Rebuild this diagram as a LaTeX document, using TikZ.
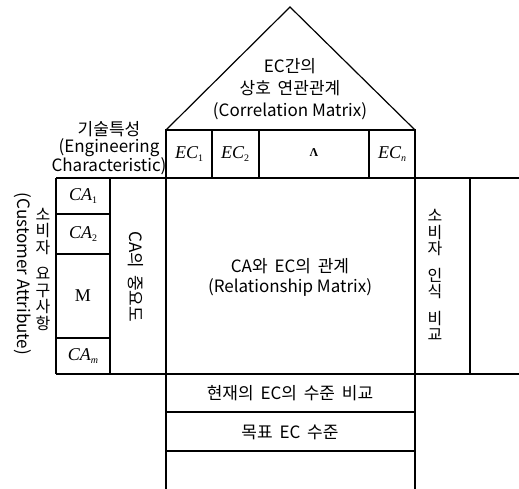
\documentclass[tikz,border=0pt]{standalone}
\usepackage{fontspec}
\setmainfont{Noto Sans CJK KR}
\newfontfamily\tms{Liberation Serif}
\newcommand\lbl[2]{{\tms\fontsize{18}{20}\selectfont\itshape #1\raisebox{-0.45ex}{\fontsize{10}{10}\selectfont #2}}}
\newcommand\ks{\hspace{0.4em}}
\begin{document}
\begin{tikzpicture}[x=1pt,y=-1pt,line width=1.2pt,
  txt/.style={font=\fontsize{17}{20}\selectfont,align=center,inner sep=0pt},
  stack/.style={font=\fontsize{16}{16.5}\selectfont,align=center,inner sep=0pt},
  cell/.style={inner sep=0pt}]
\useasboundingbox (0,0) rectangle (519,489);
% coordinates
\coordinate (apex) at (290,7);
\coordinate (rl) at (166,130);
\coordinate (rr) at (415,130);
% roof
\draw (rl) -- (apex) -- (rr);
% EC row
\draw (166,130) rectangle (415,178);
\draw (212,130) -- (212,178) (259,130) -- (259,178) (369,130) -- (369,178);
% main matrix
\draw (166,178) rectangle (415,374);
% long horizontals
\draw (56,178) -- (166,178) (415,178) -- (519,178);
\draw (56,374) -- (519,374);
% right column
\draw (470,178) -- (470,374);
% left block
\draw (56,178) -- (56,374) (110,178) -- (110,374);
\draw (56,214) -- (110,214) (56,254) -- (110,254) (56,338) -- (110,338);
% bottom rows
\draw (166,374) -- (166,489) (415,374) -- (415,489);
\draw (166,412) -- (415,412) (166,451) -- (415,451);
% texts
\node[txt,font=\fontsize{17}{22}\selectfont] (roof) at (290,89) {EC간의\\상호\ks 연관관계\\(Correlation Matrix)};
\node[txt,font=\fontsize{17}{17.5}\selectfont] (ech) at (109,148) {기술특성\\(Engineering\\Characteristic)};
\node[cell] (ec1) at (189,154) {\lbl{EC}{\upshape 1}};
\node[cell] (ec2) at (235,154) {\lbl{EC}{\upshape 2}};
\node[cell] (ecd) at (314,153) {{\tms\bfseries\fontsize{12}{12}\selectfont Λ}};
\node[cell] (ecn) at (392,154) {\lbl{EC}{n}};
\node[cell] (ca1) at (83,196) {\lbl{CA}{\upshape 1}};
\node[cell] (ca2) at (83,234) {\lbl{CA}{\upshape 2}};
\node[cell] (cad) at (83,296) {{\tms\fontsize{18}{18}\selectfont M}};
\node[cell] (cam) at (83,356) {\lbl{CA}{m}};
\node[txt] (rel) at (290,277) {CA와\ks EC의\ks 관계\\(Relationship Matrix)};
\node[txt,rotate=-90] (imp) at (136,277) {CA의\ks 중요도};
\node[txt,rotate=-90] (cust) at (23,274) {(Customer Attribute)};
\node[stack] (need) at (43,269) {소\\비\\자\\[10pt]요\\구\\사\\항};
\node[stack] (perc) at (435,275) {소\\비\\자\\[10pt]인\\식\\[10pt]비\\교};
\node[txt] (cur) at (290,393) {현재의\ks EC의\ks 수준\ks 비교};
\node[txt] (goal) at (290,432) {목표\ks EC\ks 수준};
\end{tikzpicture}
\end{document}
